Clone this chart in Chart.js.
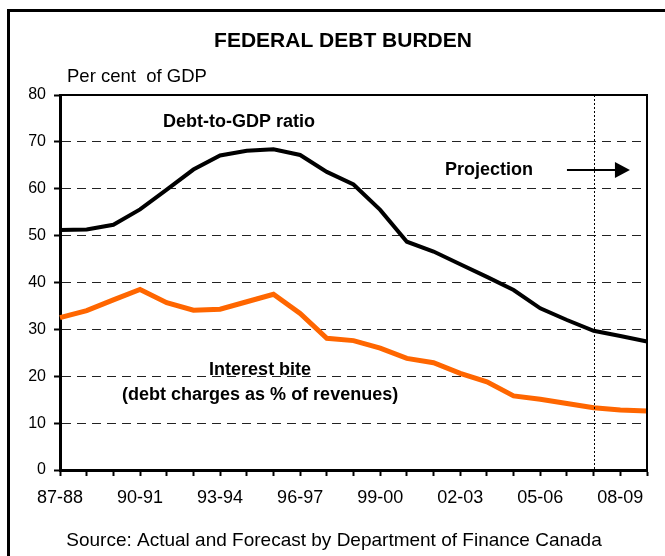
<!DOCTYPE html>
<html>
<head>
<meta charset="utf-8">
<script src="https://cdn.jsdelivr.net/npm/chart.js@4/dist/chart.umd.min.js"></script>
<style>
	html, body { margin: 0; padding: 0; background: #fff; }
	canvas { display: block; }
</style>
</head>
<body>
<canvas id="debtchart" width="665" height="556"></canvas>
<script>

var years = ['87-88','88-89','89-90','90-91','91-92','92-93','93-94','94-95','95-96','96-97','97-98','98-99',
	'99-00','00-01','01-02','02-03','03-04','04-05','05-06','06-07','07-08','08-09','09-10'];

var debtToGdp = [51.2, 51.3, 52.3, 55.6, 59.8, 64.1, 67.1, 68.1, 68.4, 67.2, 63.6, 60.9,
	55.5, 48.7, 46.6, 43.9, 41.2, 38.4, 34.5, 32.0, 29.7, 28.6, 27.4];

var interestBite = [32.5, 34.0, 36.3, 38.5, 35.7, 34.1, 34.3, 35.9, 37.5, 33.4, 28.1, 27.6,
	26.0, 23.8, 22.9, 20.6, 18.8, 15.8, 15.1, 14.2, 13.3, 12.8, 12.6];

var yTicks = [0, 10, 20, 30, 40, 50, 60, 70, 80];
var projectionStart = '07-08';

var FONT = "'Liberation Sans', Arial, sans-serif";

// frame, texts, dotted projection line and arrow
var decorations = {
	id: 'decorations',
	afterDatasetsDraw: function(chart){
		var ctx = chart.ctx;
		var area = chart.chartArea;
		var x = chart.scales.x;
		var y = chart.scales.y;

		ctx.save();

		// plot frame top + right
		ctx.strokeStyle = '#000';
		ctx.lineWidth = 2;
		ctx.beginPath();
		ctx.moveTo(area.left, area.top);
		ctx.lineTo(area.right, area.top);
		ctx.lineTo(area.right, area.bottom);
		ctx.stroke();

		// projection divider
		var px = Math.round(x.getPixelForValue(years.indexOf(projectionStart))) + 0.5;
		ctx.lineWidth = 1;
		ctx.setLineDash([2, 2]);
		ctx.beginPath();
		ctx.moveTo(px, area.top);
		ctx.lineTo(px, area.bottom);
		ctx.stroke();
		ctx.setLineDash([]);

		// arrow
		var ay = y.getPixelForValue(64);
		var ax1 = x.getPixelForValue(19.0);
		var ax2 = x.getPixelForValue(21.36);
		ctx.lineWidth = 2;
		ctx.beginPath();
		ctx.moveTo(ax1, ay);
		ctx.lineTo(ax2 - 12, ay);
		ctx.stroke();
		ctx.fillStyle = '#000';
		ctx.beginPath();
		ctx.moveTo(ax2, ay);
		ctx.lineTo(ax2 - 15, ay - 8);
		ctx.lineTo(ax2 - 15, ay + 8);
		ctx.closePath();
		ctx.fill();

		// annotations
		ctx.textAlign = 'center';
		ctx.textBaseline = 'middle';
		ctx.font = 'bold 18px ' + FONT;
		ctx.fillText('Debt-to-GDP ratio', x.getPixelForValue(6.71), y.getPixelForValue(74.2));
		ctx.fillText('Projection', x.getPixelForValue(16.08), y.getPixelForValue(64));
		ctx.fillText('Interest bite', x.getPixelForValue(7.5), y.getPixelForValue(21.3));
		ctx.fillText('(debt charges as % of revenues)', x.getPixelForValue(7.5), y.getPixelForValue(16));

		// title, unit, source
		ctx.font = 'bold 21px ' + FONT;
		ctx.fillText('FEDERAL DEBT BURDEN', 343, 41);
		ctx.font = '18.5px ' + FONT;
		ctx.textAlign = 'left';
		ctx.fillText('Per cent  of GDP', 67, 77);
		ctx.font = '19px ' + FONT;
		ctx.textAlign = 'center';
		ctx.fillText('Source: Actual and Forecast by Department of Finance Canada', 334, 541);

		// outer frame
		ctx.lineWidth = 3;
		ctx.beginPath();
		ctx.moveTo(8.5, chart.height);
		ctx.lineTo(8.5, 10.5);
		ctx.lineTo(chart.width, 10.5);
		ctx.stroke();

		ctx.restore();
	}
};

var chart_settings = {
	type: 'line',
	data: {
		labels: years,
		datasets: [{
			label: 'Debt-to-GDP ratio',
			data: debtToGdp,
			borderColor: '#000000',
			borderWidth: 4,
			pointRadius: 0,
			tension: 0,
			fill: false
		},{
			label: 'Interest bite',
			data: interestBite,
			borderColor: '#FF6600',
			borderWidth: 5,
			pointRadius: 0,
			tension: 0,
			fill: false
		}]
	},
	options: {
		responsive: false,
		animation: false,
		layout: { padding: { left: 0, top: 95, right: 18, bottom: 0 } },
		plugins: {
			legend: { display: false },
			tooltip: { enabled: false },
			title: { display: false }
		},
		scales: {
			x: {
				type: 'category',
				offset: false,
				afterFit: function(scale){ scale.height = 86; },
				grid: {
					offset: false,
					drawOnChartArea: false,
					tickLength: 6,
					tickColor: '#000',
					tickWidth: 2
				},
				border: { display: true, color: '#000', width: 3 },
				ticks: {
					autoSkip: false,
					maxRotation: 0,
					padding: 11,
					color: '#000',
					font: { family: FONT, size: 18 },
					callback: function(value, index){ return index % 3 === 0 ? years[index] : ''; }
				}
			},
			y: {
				min: 0,
				max: 80,
				afterFit: function(scale){ scale.width = 60; },
				afterBuildTicks: function(scale){
					scale.ticks = yTicks.map(function(v){ return { value: v }; });
				},
				grid: {
					color: function(c){
						var v = c.tick ? c.tick.value : 0;
						return (v === 0 || v === 80) ? 'rgba(0,0,0,0)' : '#222';
					},
					lineWidth: 1,
					tickLength: 6,
					tickColor: '#000',
					tickWidth: 2,
					tickBorderDash: []
				},
				border: { display: true, color: '#000', width: 3, dash: [9, 6] },
				ticks: {
					padding: 8,
					color: '#000',
					font: { family: FONT, size: 16 }
				}
			}
		}
	},
	plugins: [decorations]
};

new Chart(document.getElementById('debtchart'), chart_settings);

</script>
</body>
</html>
